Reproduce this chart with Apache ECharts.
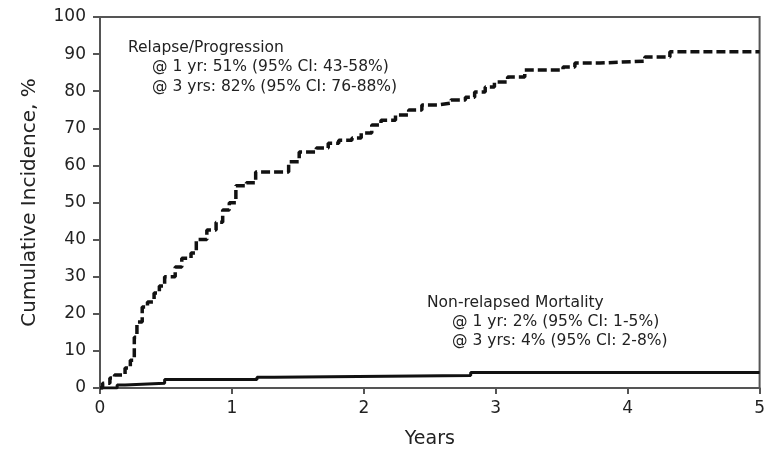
<!DOCTYPE html>
<html>
<head>
<meta charset="utf-8">
<script src="https://cdn.jsdelivr.net/npm/echarts@6/dist/echarts.min.js"></script>
<style>
  html, body { margin: 0; padding: 0; background: #fff; }
  #main { width: 768px; height: 456px; }
</style>
</head>
<body>
<div id="main"></div>
<script>
// relapse / progression: [years, cumulative incidence %]
var relapseTimes = [0, 0.02, 0.075, 0.11, 0.19, 0.23, 0.26, 0.28, 0.32, 0.36, 0.41, 0.45, 0.49, 0.57, 0.62, 0.69,
  0.73, 0.81, 0.88, 0.93, 0.98, 1.03, 1.11, 1.18, 1.43, 1.51, 1.64, 1.73, 1.81, 1.91, 1.98, 2.06, 2.13,
  2.24, 2.34, 2.44, 2.56, 2.66, 2.77, 2.84, 2.92, 2.99, 3.09, 3.22, 3.51, 3.60, 3.79, 4.13, 4.32, 5.0];
var relapseValues = [0, 1.3, 2.7, 3.5, 5.4, 7.5, 13.7, 17.8, 21.8, 23.2, 25.6, 27.5, 30, 32.6, 35, 36.4,
  40, 42.6, 44.7, 48, 49.9, 54.5, 55.3, 58.2, 61, 63.6, 64.7, 66, 66.8, 67.4, 68.7, 70.9, 72.2,
  73.6, 74.9, 76.3, 76.8, 77.6, 78.4, 79.8, 81.1, 82.5, 83.8, 85.7, 86.5, 87.6, 88.1, 89.2, 90.6, 90.6];

// non-relapsed mortality
var nrmTimes = [0, 0.13, 0.19, 0.49, 1.19, 1.32, 2.81, 5.0];
var nrmValues = [0, 0.8, 1.3, 2.3, 2.9, 3.4, 4.2, 4.2];

var yTicks = [0, 10, 20, 30, 40, 50, 60, 70, 80, 90, 100];
var xTicks = [0, 1, 2, 3, 4, 5];

var relapseTitle = 'Relapse/Progression';
var relapseNotes = ['@ 1 yr: 51% (95% CI: 43-58%)', '@ 3 yrs: 82% (95% CI: 76-88%)'];
var nrmTitle = 'Non-relapsed Mortality';
var nrmNotes = ['@ 1 yr: 2% (95% CI: 1-5%)', '@ 3 yrs: 4% (95% CI: 2-8%)'];

function pairs(xs, ys) {
  return xs.map(function (x, i) { return [x, ys[i]]; });
}

var myChart = echarts.init(document.getElementById('main'));

var axisColor = '#555';
var font = 'Verdana, "DejaVu Sans", sans-serif';
var noteFont = '15.5px ' + font;

option = {
  backgroundColor: '#fff',
  animation: false,
  grid: {
    left: 100, right: 6, top: 17, bottom: 68,
    show: true, borderColor: axisColor, borderWidth: 2
  },
  xAxis: {
    type: 'value',
    min: xTicks[0], max: xTicks[xTicks.length - 1], interval: 1,
    name: 'Years', nameLocation: 'middle', nameGap: 42,
    nameTextStyle: { fontFamily: font, fontSize: 19, color: '#222' },
    axisLine: { onZero: false, lineStyle: { color: axisColor, width: 2 } },
    axisTick: { show: true, length: 6, lineStyle: { color: axisColor, width: 2 } },
    axisLabel: { fontFamily: font, fontSize: 17, color: '#222', margin: 12 },
    splitLine: { show: false }
  },
  yAxis: {
    type: 'value',
    min: yTicks[0], max: yTicks[yTicks.length - 1], interval: 10,
    name: 'Cumulative Incidence, %', nameLocation: 'middle', nameGap: 60,
    nameTextStyle: { fontFamily: font, fontSize: 20, color: '#222' },
    axisLine: { onZero: false, lineStyle: { color: axisColor, width: 2 } },
    axisTick: { show: true, length: 7, lineStyle: { color: axisColor, width: 2 } },
    axisLabel: { fontFamily: font, fontSize: 17, color: '#222', margin: 14 },
    splitLine: { show: false }
  },
  graphic: [
    { type: 'text', left: 128, top: 40, style: { text: relapseTitle, font: noteFont, fill: '#222' } },
    { type: 'text', left: 152, top: 59, style: { text: relapseNotes[0], font: noteFont, fill: '#222' } },
    { type: 'text', left: 152, top: 79, style: { text: relapseNotes[1], font: noteFont, fill: '#222' } },
    { type: 'text', left: 427, top: 295, style: { text: nrmTitle, font: noteFont, fill: '#222' } },
    { type: 'text', left: 452, top: 314, style: { text: nrmNotes[0], font: noteFont, fill: '#222' } },
    { type: 'text', left: 452, top: 333, style: { text: nrmNotes[1], font: noteFont, fill: '#222' } }
  ],
  series: [
    {
      name: 'Relapse/Progression',
      type: 'line', step: 'end', symbol: 'none',
      data: pairs(relapseTimes, relapseValues),
      lineStyle: { color: '#111', width: 3.5, type: [9, 4] }
    },
    {
      name: 'Non-relapsed Mortality',
      type: 'line', step: 'end', symbol: 'none',
      data: pairs(nrmTimes, nrmValues),
      lineStyle: { color: '#111', width: 3 }
    }
  ]
};

myChart.setOption(option);
</script>
</body>
</html>
